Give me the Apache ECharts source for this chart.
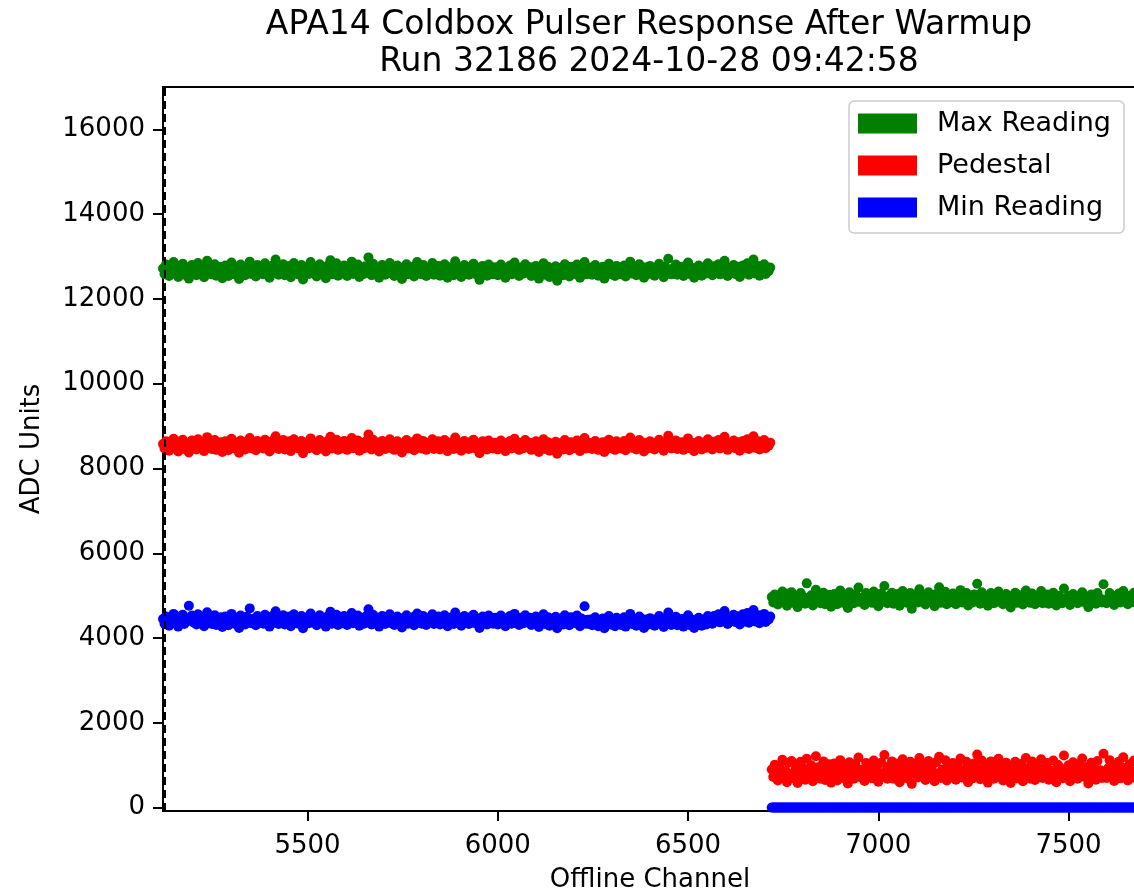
<!DOCTYPE html>
<html>
<head>
<meta charset="utf-8">
<title>APA14 Coldbox Pulser Response After Warmup</title>
<script src="https://cdn.jsdelivr.net/npm/echarts@6/dist/echarts.min.js"></script>
<style>
  html, body { margin: 0; padding: 0; background: #fff; }
  #chart { width: 1134px; height: 894px; }
</style>
</head>
<body>
<div id="chart"></div>
<script>
var CH_START = 5120
var CH_STEP = 4

// channels 5120 - 6716
var maxReadingA = [
  12720, 12590, 12810, 12660, 12540, 12750, 12690, 12870, 12610, 12700, 12520, 12780, 12650, 12830, 12570, 12690, 12740, 12480, 12660, 12800,
  12620, 12710, 12560, 12850, 12680, 12600, 12770, 12510, 12690, 12900, 12640, 12730, 12580, 12670, 12820, 12550, 12700, 12630, 12760, 12490,
  12680, 12790, 12600, 12540, 12720, 12860, 12650, 12580, 12740, 12690, 12470, 12810, 12630, 12700, 12560, 12770, 12660, 12880, 12590, 12710,
  12640, 12530, 12800, 12690, 12620, 12750, 12580, 12840, 12670, 12720, 12500, 12650, 12790, 12610, 12930, 12680, 12570, 12730, 12650, 12820,
  12560, 12700, 12640, 12780, 12510, 12690, 12850, 12620, 12740, 12580, 12680, 12800, 12460, 12710, 12640, 12760, 12590, 12870, 12670, 12610,
  12750, 12530, 12690, 12820, 12600, 12710, 12660, 12490, 12780, 12640, 12910, 12580, 12700, 12620, 12840, 12550, 12730, 12680, 12600, 12790,
  12670, 12540, 12760, 12630, 12880, 12590, 12700, 12650, 12810, 12520, 12720, 12680, 12590, 12770, 12640, 12980, 12700, 12560, 12830, 12660,
  12610, 12740, 12500, 12690, 12800, 12630, 12570, 12760, 12680, 12850, 12600, 12720, 12540, 12670, 12790, 12620, 12700, 12470, 12740, 12650,
  12820, 12580, 12700, 12640, 12760, 12530, 12690, 12870, 12620, 12710, 12580, 12800, 12660, 12540, 12730, 12690, 12620, 12850, 12570, 12700,
  12640, 12780, 12550, 12690, 12610, 12820, 12680, 12500, 12750, 12630, 12700, 12560, 12890, 12660, 12600, 12740, 12520, 12680, 12800, 12620,
  12700, 12570, 12760, 12650, 12830, 12590, 12680, 12720, 12450, 12660, 12780, 12610, 12700, 12550, 12810, 12640, 12690, 12580, 12750, 12630,
  12560, 12690, 12810, 12620, 12730, 12500, 12680, 12640, 12790, 12580, 12700, 12860, 12610, 12670, 12540, 12740, 12650, 12600, 12820, 12680,
  12620, 12750, 12540, 12680, 12600, 12780, 12660, 12480, 12720, 12630, 12840, 12570, 12690, 12760, 12520, 12650, 12700, 12590, 12770, 12430,
  12680, 12610, 12740, 12560, 12820, 12650, 12700, 12530, 12760, 12620, 12680, 12590, 12810, 12660, 12500, 12720, 12640, 12870, 12580, 12690,
  12610, 12740, 12570, 12680, 12800, 12630, 12550, 12710, 12660, 12760, 12480, 12690, 12620, 12830, 12590, 12700, 12650, 12540, 12780, 12640,
  12720, 12580, 12660, 12790, 12530, 12700, 12640, 12880, 12600, 12690, 12750, 12560, 12670, 12820, 12620, 12700, 12500, 12740, 12650, 12590,
  12780, 12630, 12700, 12550, 12740, 12660, 12830, 12600, 12690, 12510, 12760, 12640, 12950, 12680, 12580, 12720, 12650, 12810, 12570, 12690,
  12620, 12760, 12540, 12700, 12650, 12860, 12590, 12680, 12730, 12500, 12690, 12620, 12790, 12660, 12550, 12740, 12680, 12600, 12840, 12640,
  12700, 12560, 12770, 12630, 12690, 12820, 12580, 12710, 12640, 12900, 12670, 12540, 12750, 12620, 12700, 12800, 12590, 12680, 12760, 12520,
  12660, 12790, 12610, 12700, 12840, 12570, 12720, 12650, 12930, 12600, 12690, 12780, 12550, 12710, 12640, 12820, 12590, 12700, 12660, 12740
]
var pedestalA = [
  8580, 8470, 8640, 8530, 8420, 8610, 8560, 8700, 8490, 8570, 8400, 8630, 8520, 8680, 8460, 8550, 8600, 8380, 8540, 8660,
  8500, 8590, 8450, 8690, 8550, 8480, 8620, 8410, 8560, 8740, 8510, 8600, 8460, 8540, 8670, 8440, 8570, 8510, 8620, 8390,
  8550, 8640, 8480, 8430, 8590, 8700, 8520, 8470, 8610, 8560, 8370, 8660, 8510, 8580, 8450, 8630, 8540, 8720, 8480, 8580,
  8520, 8430, 8650, 8560, 8500, 8610, 8470, 8680, 8540, 8590, 8400, 8530, 8650, 8490, 8760, 8550, 8460, 8600, 8530, 8670,
  8450, 8570, 8520, 8640, 8410, 8560, 8690, 8500, 8610, 8470, 8550, 8650, 8360, 8580, 8520, 8620, 8480, 8710, 8540, 8490,
  8610, 8430, 8560, 8670, 8490, 8580, 8530, 8400, 8640, 8520, 8750, 8470, 8570, 8500, 8680, 8440, 8600, 8550, 8480, 8650,
  8540, 8440, 8620, 8510, 8720, 8480, 8570, 8530, 8660, 8420, 8590, 8550, 8470, 8630, 8520, 8800, 8570, 8450, 8680, 8540,
  8490, 8610, 8400, 8560, 8650, 8510, 8460, 8620, 8550, 8690, 8480, 8590, 8440, 8540, 8640, 8500, 8570, 8380, 8600, 8530,
  8670, 8470, 8570, 8520, 8620, 8430, 8560, 8710, 8500, 8580, 8470, 8650, 8540, 8440, 8600, 8560, 8500, 8690, 8460, 8570,
  8520, 8640, 8450, 8560, 8490, 8670, 8550, 8410, 8610, 8510, 8570, 8460, 8730, 8540, 8490, 8600, 8420, 8550, 8650, 8500,
  8570, 8460, 8620, 8530, 8680, 8480, 8550, 8590, 8360, 8540, 8640, 8490, 8570, 8450, 8660, 8520, 8560, 8470, 8610, 8510,
  8450, 8560, 8660, 8500, 8600, 8410, 8550, 8520, 8650, 8470, 8570, 8700, 8490, 8540, 8440, 8610, 8530, 8480, 8670, 8550,
  8500, 8610, 8440, 8550, 8480, 8640, 8540, 8390, 8590, 8510, 8690, 8460, 8560, 8620, 8420, 8530, 8570, 8480, 8630, 8350,
  8550, 8490, 8600, 8450, 8670, 8530, 8570, 8430, 8620, 8500, 8550, 8480, 8660, 8540, 8410, 8590, 8520, 8720, 8470, 8560,
  8490, 8600, 8460, 8550, 8650, 8510, 8440, 8580, 8540, 8620, 8390, 8560, 8500, 8680, 8480, 8570, 8530, 8440, 8640, 8520,
  8590, 8470, 8540, 8650, 8430, 8570, 8520, 8730, 8490, 8560, 8610, 8450, 8550, 8670, 8500, 8570, 8400, 8600, 8530, 8480,
  8640, 8510, 8570, 8450, 8600, 8540, 8680, 8490, 8560, 8420, 8620, 8520, 8770, 8550, 8470, 8590, 8530, 8660, 8460, 8560,
  8500, 8620, 8440, 8570, 8530, 8710, 8480, 8550, 8600, 8410, 8560, 8500, 8650, 8540, 8450, 8610, 8550, 8490, 8690, 8520,
  8570, 8450, 8630, 8510, 8560, 8670, 8470, 8580, 8520, 8750, 8540, 8440, 8610, 8500, 8570, 8660, 8480, 8550, 8620, 8420,
  8540, 8650, 8490, 8570, 8690, 8460, 8590, 8530, 8760, 8490, 8560, 8640, 8450, 8580, 8520, 8670, 8480, 8570, 8540, 8610
]
var minReadingA = [
  4450, 4340, 4510, 4400, 4290, 4480, 4430, 4570, 4360, 4440, 4270, 4500, 4390, 4550, 4330, 4420, 4470, 4760, 4410, 4530,
  4370, 4460, 4320, 4560, 4420, 4350, 4490, 4280, 4430, 4610, 4380, 4470, 4330, 4410, 4540, 4310, 4440, 4380, 4490, 4260,
  4420, 4510, 4350, 4300, 4460, 4570, 4390, 4340, 4480, 4430, 4240, 4530, 4380, 4450, 4320, 4500, 4410, 4700, 4350, 4450,
  4390, 4300, 4520, 4430, 4370, 4480, 4340, 4550, 4410, 4460, 4270, 4400, 4520, 4360, 4630, 4420, 4330, 4470, 4400, 4540,
  4320, 4440, 4390, 4510, 4280, 4430, 4560, 4370, 4480, 4340, 4420, 4520, 4230, 4450, 4390, 4490, 4350, 4580, 4410, 4360,
  4480, 4300, 4430, 4540, 4360, 4450, 4400, 4270, 4510, 4390, 4620, 4340, 4440, 4370, 4550, 4310, 4470, 4420, 4350, 4520,
  4410, 4310, 4490, 4380, 4590, 4350, 4440, 4400, 4530, 4290, 4460, 4420, 4340, 4500, 4390, 4680, 4440, 4320, 4550, 4410,
  4360, 4480, 4270, 4430, 4520, 4380, 4330, 4490, 4420, 4560, 4350, 4460, 4310, 4410, 4510, 4370, 4440, 4250, 4470, 4400,
  4540, 4340, 4440, 4390, 4490, 4300, 4430, 4580, 4370, 4450, 4340, 4520, 4410, 4310, 4470, 4430, 4370, 4560, 4330, 4440,
  4390, 4510, 4320, 4430, 4360, 4540, 4420, 4280, 4480, 4380, 4440, 4330, 4600, 4410, 4360, 4470, 4290, 4420, 4520, 4370,
  4440, 4330, 4490, 4400, 4550, 4350, 4420, 4460, 4240, 4410, 4510, 4360, 4440, 4320, 4530, 4390, 4430, 4340, 4480, 4380,
  4320, 4430, 4530, 4370, 4470, 4280, 4420, 4390, 4520, 4340, 4440, 4570, 4360, 4410, 4310, 4480, 4400, 4350, 4540, 4420,
  4370, 4480, 4310, 4420, 4350, 4510, 4410, 4260, 4460, 4380, 4560, 4330, 4430, 4490, 4290, 4400, 4440, 4350, 4500, 4230,
  4420, 4360, 4470, 4320, 4540, 4400, 4440, 4300, 4490, 4370, 4420, 4350, 4530, 4410, 4280, 4460, 4390, 4750, 4340, 4430,
  4330, 4440, 4300, 4390, 4490, 4350, 4280, 4420, 4380, 4460, 4230, 4400, 4340, 4520, 4320, 4410, 4370, 4280, 4480, 4360,
  4420, 4310, 4380, 4490, 4270, 4410, 4360, 4570, 4330, 4400, 4450, 4290, 4390, 4510, 4340, 4410, 4240, 4440, 4370, 4320,
  4470, 4350, 4410, 4290, 4440, 4380, 4520, 4330, 4400, 4260, 4460, 4360, 4600, 4390, 4310, 4430, 4370, 4500, 4300, 4400,
  4330, 4450, 4270, 4400, 4360, 4540, 4310, 4390, 4430, 4240, 4400, 4340, 4480, 4370, 4290, 4440, 4380, 4320, 4520, 4360,
  4460, 4340, 4520, 4400, 4450, 4560, 4370, 4470, 4420, 4640, 4430, 4330, 4500, 4390, 4460, 4550, 4380, 4440, 4510, 4320,
  4440, 4560, 4390, 4470, 4590, 4360, 4500, 4430, 4660, 4390, 4460, 4540, 4350, 4480, 4420, 4570, 4380, 4470, 4440, 4510
]

// channels 6720 - 7676
var maxReadingB = [
  4970, 4840, 5030, 4900, 4790, 5000, 4950, 5100, 4860, 4940, 4760, 5050, 4890, 5080, 4830, 4920, 4990, 4730, 4910, 5060,
  4870, 4960, 4810, 5290, 4920, 4850, 5010, 4770, 4930, 5140, 4880, 4980, 4820, 4910, 5070, 4800, 4950, 4880, 5020, 4740,
  4930, 5040, 4860, 4800, 4970, 5120, 4900, 4830, 5000, 4940, 4710, 5080, 4880, 4960, 4820, 5030, 4920, 5190, 4850, 4950,
  4890, 4780, 5060, 4940, 4870, 5010, 4830, 5100, 4920, 4970, 4750, 4900, 5050, 4860, 5230, 4930, 4820, 4990, 4900, 5070,
  4810, 4950, 4890, 5040, 4760, 4930, 5110, 4870, 5000, 4830, 4920, 5060, 4690, 4960, 4890, 5020, 4840, 5150, 4910, 4860,
  5000, 4790, 4940, 5080, 4860, 4960, 4900, 4750, 5040, 4880, 5200, 4830, 4950, 4870, 5090, 4800, 4980, 4920, 4850, 5050,
  4910, 4800, 5020, 4880, 5130, 4840, 4950, 4900, 5060, 4770, 4990, 4930, 4840, 5030, 4890, 5280, 4950, 4810, 5080, 4910,
  4860, 5000, 4760, 4930, 5060, 4880, 4820, 5010, 4920, 5100, 4850, 4980, 4800, 4910, 5040, 4870, 4950, 4720, 4990, 4900,
  5070, 4830, 4950, 4890, 5010, 4790, 4930, 5120, 4870, 4960, 4830, 5050, 4910, 4800, 4990, 4930, 4860, 5110, 4820, 4950,
  4890, 5030, 4810, 4940, 4860, 5070, 4920, 4770, 5000, 4880, 4950, 4820, 5170, 4910, 4850, 4990, 4780, 4930, 5040, 4870,
  4940, 4820, 5000, 4900, 5080, 4850, 4920, 4970, 4730, 4910, 5030, 4860, 4940, 4810, 5060, 4890, 4930, 4840, 5270, 4880,
  4820, 4940, 5060, 4870, 4990, 4780, 4920, 4890, 5050, 4840, 4950, 5110, 4860, 4910, 4800, 5000, 4900, 4850, 5070, 4920
]
var pedestalB = [
  900, 720, 1010, 830, 640, 980, 880, 1130, 700, 860, 600, 1060, 790, 1100, 690, 850, 950, 580, 820, 1080,
  760, 920, 660, 1150, 850, 730, 1000, 620, 870, 1210, 750, 960, 680, 830, 1090, 650, 900, 780, 1020, 590,
  860, 1040, 720, 640, 950, 1120, 800, 700, 1010, 880, 570, 1070, 770, 920, 680, 1030, 840, 1180, 720, 890,
  790, 630, 1050, 870, 760, 990, 690, 1110, 830, 940, 610, 800, 1060, 740, 1240, 860, 680, 970, 810, 1090,
  680, 900, 800, 1040, 600, 870, 1140, 760, 1000, 690, 850, 1080, 560, 910, 790, 1030, 710, 1170, 840, 740,
  1010, 650, 880, 1100, 730, 930, 830, 620, 1070, 790, 1200, 700, 900, 760, 1120, 640, 980, 850, 720, 1050,
  840, 660, 1020, 790, 1160, 710, 890, 820, 1080, 600, 960, 870, 690, 1040, 780, 1250, 900, 670, 1110, 830,
  740, 1000, 590, 870, 1090, 780, 680, 1020, 850, 1150, 720, 960, 640, 830, 1060, 750, 910, 580, 990, 810,
  1080, 690, 910, 800, 1030, 620, 870, 1170, 740, 940, 680, 1090, 820, 650, 990, 880, 740, 1140, 700, 920,
  790, 1050, 660, 880, 750, 1110, 840, 600, 1010, 770, 930, 690, 1230, 850, 740, 1000, 620, 880, 1070, 760,
  900, 680, 1030, 810, 1160, 730, 870, 960, 570, 840, 1060, 720, 920, 660, 1100, 790, 880, 700, 1270, 780,
  700, 930, 1120, 760, 1000, 630, 860, 810, 1080, 690, 950, 1190, 740, 870, 640, 1020, 820, 710, 1110, 850
]
var minReadingB = [
  0, 0, 0, 0, 0, 0, 0, 0, 0, 0, 0, 0, 0, 0, 0, 0, 0, 0, 0, 0,
  0, 0, 0, 0, 0, 0, 0, 0, 0, 0, 0, 0, 0, 0, 0, 0, 0, 0, 0, 0,
  0, 0, 0, 0, 0, 0, 0, 0, 0, 0, 0, 0, 0, 0, 0, 0, 0, 0, 0, 0,
  0, 0, 0, 0, 0, 0, 0, 0, 0, 0, 0, 0, 0, 0, 0, 0, 0, 0, 0, 0,
  0, 0, 0, 0, 0, 0, 0, 0, 0, 0, 0, 0, 0, 0, 0, 0, 0, 0, 0, 0,
  0, 0, 0, 0, 0, 0, 0, 0, 0, 0, 0, 0, 0, 0, 0, 0, 0, 0, 0, 0,
  0, 0, 0, 0, 0, 0, 0, 0, 0, 0, 0, 0, 0, 0, 0, 0, 0, 0, 0, 0,
  0, 0, 0, 0, 0, 0, 0, 0, 0, 0, 0, 0, 0, 0, 0, 0, 0, 0, 0, 0,
  0, 0, 0, 0, 0, 0, 0, 0, 0, 0, 0, 0, 0, 0, 0, 0, 0, 0, 0, 0,
  0, 0, 0, 0, 0, 0, 0, 0, 0, 0, 0, 0, 0, 0, 0, 0, 0, 0, 0, 0,
  0, 0, 0, 0, 0, 0, 0, 0, 0, 0, 0, 0, 0, 0, 0, 0, 0, 0, 0, 0,
  0, 0, 0, 0, 0, 0, 0, 0, 0, 0, 0, 0, 0, 0, 0, 0, 0, 0, 0, 0
]

var yTicks = [0, 2000, 4000, 6000, 8000, 10000, 12000, 14000, 16000]
var xTicks = [5500, 6000, 6500, 7000, 7500]

function points (a, b) {
  var vals = a.concat(b)
  var out = []
  for (var i = 0; i < vals.length; i++) {
    out.push([CH_START + i * CH_STEP, vals[i]])
  }
  return out
}

function plain (v) {
  return String(v)
}

var font = 'DejaVu Sans'
var chart = echarts.init(document.getElementById('chart'))
chart.setOption({
  animation: false,
  backgroundColor: '#fff',
  textStyle: { fontFamily: font },
  title: {
    text: 'APA14 Coldbox Pulser Response After Warmup\nRun 32186 2024-10-28 09:42:58',
    left: 649,
    top: 7,
    padding: 0,
    textAlign: 'center',
    textStyle: {
      fontFamily: font,
      fontSize: 33,
      fontWeight: 'normal',
      lineHeight: 37,
      color: '#000'
    }
  },
  legend: {
    orient: 'vertical',
    left: 849,
    top: 101,
    icon: 'rect',
    itemWidth: 59,
    itemHeight: 20,
    itemGap: 15,
    padding: [9, 13, 12, 9],
    borderColor: '#cccccc',
    borderWidth: 1.5,
    borderRadius: 5,
    backgroundColor: '#fff',
    textStyle: {
      fontFamily: font,
      fontSize: 27,
      color: '#000',
      padding: [0, 0, 0, 15]
    },
    data: ['Max Reading', 'Pedestal', 'Min Reading']
  },
  grid: {
    left: 163,
    top: 87,
    width: 974,
    height: 724,
    outerBoundsMode: 'none',
    show: true,
    borderColor: '#000',
    borderWidth: 2,
    backgroundColor: 'transparent'
  },
  xAxis: {
    type: 'value',
    min: 5120,
    max: 7680,
    name: 'Offline Channel',
    nameLocation: 'middle',
    nameGap: 56,
    nameTextStyle: { fontFamily: font, fontSize: 26, color: '#000' },
    axisLine: { onZero: false, lineStyle: { color: '#000', width: 2 } },
    axisTick: { customValues: xTicks, length: 10, lineStyle: { color: '#000', width: 2 } },
    axisLabel: { customValues: xTicks, formatter: plain, margin: 22, fontFamily: font, fontSize: 26, color: '#000' },
    splitLine: { show: false }
  },
  yAxis: {
    type: 'value',
    min: -80,
    max: 17000,
    name: 'ADC Units',
    nameLocation: 'middle',
    nameGap: 118,
    nameTextStyle: { fontFamily: font, fontSize: 26, color: '#000' },
    axisLine: { show: true, onZero: false, lineStyle: { color: '#000', width: 2 } },
    axisTick: { show: true, customValues: yTicks, length: 10, lineStyle: { color: '#000', width: 2 } },
    axisLabel: { customValues: yTicks, formatter: plain, margin: 18, fontFamily: font, fontSize: 26, color: '#000' },
    splitLine: { show: false }
  },
  series: [
    {
      name: 'Max Reading',
      type: 'scatter',
      symbolSize: 10,
      itemStyle: { color: '#008000', opacity: 1 },
      data: points(maxReadingA, maxReadingB),
      markLine: {
        silent: true,
        symbol: 'none',
        label: { show: false },
        lineStyle: { color: '#000', type: [8, 5], width: 2 },
        data: [{ xAxis: 5125 }]
      }
    },
    {
      name: 'Pedestal',
      type: 'scatter',
      symbolSize: 10,
      itemStyle: { color: '#ff0000', opacity: 1 },
      data: points(pedestalA, pedestalB)
    },
    {
      name: 'Min Reading',
      type: 'scatter',
      symbolSize: 10,
      itemStyle: { color: '#0000ff', opacity: 1 },
      data: points(minReadingA, minReadingB)
    }
  ]
})
</script>
</body>
</html>
